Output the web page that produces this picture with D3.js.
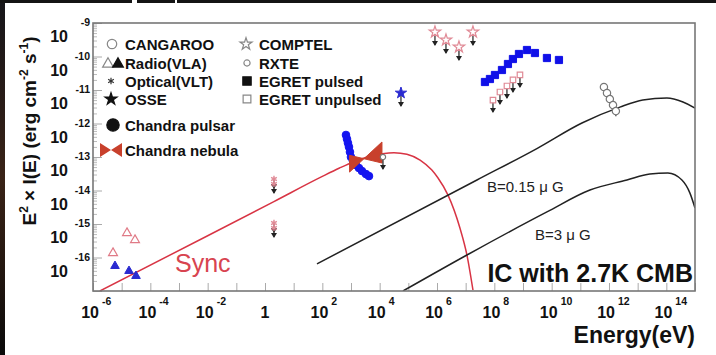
<!DOCTYPE html>
<html>
<head>
<meta charset="utf-8">
<script src="https://cdn.jsdelivr.net/npm/d3@7"></script>
<style>
  body { margin: 0; background: #fff; }
  svg { display: block; font-family: "Liberation Sans", Arial, Helvetica, sans-serif; }
</style>
</head>
<body>
<svg id="chart" width="716" height="355"></svg>
<script>
// all values are log10(E / eV) and log10(E^2 I(E) / erg cm^-2 s^-1)
const syncLogE = [-5.76, -2.0, 0.31, 2.0, 2.6, 3.1, 3.6, 4.1, 4.5, 4.95, 5.41, 5.82, 6.03, 6.38, 6.80, 7.045, 7.254];
const syncLogF = [-17.0, -15.35, -14.33, -13.58, -13.33, -13.14, -12.99, -12.90, -12.87, -12.92, -13.09, -13.39, -13.62, -14.13, -15.12, -15.93, -16.97];

const icHighLogE = [1.813, 7.394, 9.5, 11.056, 12.38, 13.18, 14.02, 14.58, 15.0];
const icHighLogF = [-16.19, -13.687, -12.74, -11.985, -11.51, -11.30, -11.24, -11.36, -11.54];

const icLowLogE = [4.813, 7.045, 9.835, 11.335, 12.626, 13.427, 14.055, 14.543, 14.82, 15.0];
const icLowLogF = [-17.0, -15.925, -14.64, -13.985, -13.687, -13.507, -13.478, -13.687, -14.07, -14.52];

const radioOpenLogE = [-5.302, -4.814, -4.535];
const radioOpenLogF = [-15.866, -15.269, -15.478];
const radioFilledLogE = [-5.233, -4.744, -4.50];
const radioFilledLogF = [-16.254, -16.403, -16.552];

const opticalLogE = [0.313, 0.313, 0.313, 0.313];
const opticalLogF = [-13.657, -13.806, -14.97, -15.12];

const pulsarLogE = [2.825, 2.86, 2.894, 2.929, 2.964, 2.999, 3.069, 3.173, 3.278, 3.383, 3.522, 3.627];
const pulsarLogF = [-12.343, -12.463, -12.582, -12.70, -12.85, -13.0, -13.12, -13.24, -13.33, -13.42, -13.51, -13.57];

// Chandra nebula butterfly: [E1, E2] for the soft and hard power laws
const nebulaLogE = [2.95, 4.080];
const nebulaSoftLogF = [-12.95, -13.179];
const nebulaHardLogF = [-13.45, -12.552];

const rxteLogE = [4.115];
const rxteLogF = [-13.0];
const osseLogE = [4.743];
const osseLogF = [-11.09];

const comptelLogE = [5.929, 6.313, 6.766, 7.254];
const comptelLogF = [-9.269, -9.507, -9.716, -9.269];

const egretPulsedLogE = [7.673, 7.847, 8.022, 8.266, 8.475, 8.649, 8.859, 9.138, 9.417, 9.835, 10.254];
const egretPulsedLogF = [-10.761, -10.672, -10.552, -10.403, -10.224, -10.075, -9.925, -9.806, -9.896, -10.045, -10.104];

const egretUnpulsedLogE = [7.952, 8.196, 8.44, 8.65, 8.894];
const egretUnpulsedLogF = [-11.30, -11.06, -10.88, -10.70, -10.55];

const cangarooLogE = [11.823, 11.93, 12.03, 12.14, 12.24];
const cangarooLogF = [-10.91, -11.09, -11.27, -11.45, -11.63];
const cangarooErr = [0.12, 0.12, 0.12, 0.12, 0.15];

const xTickExps = [-6, -4, -2, 0, 2, 4, 6, 8, 10, 12, 14];
const yTickExps = [-9, -10, -11, -12, -13, -14, -15, -16];

const legendLeft = ["CANGAROO", "Radio(VLA)", "Optical(VLT)", "OSSE", "Chandra pulsar", "Chandra nebula"];
const legendRight = ["COMPTEL", "RXTE", "EGRET pulsed", "EGRET unpulsed"];

const W = 716, H = 355;
const svg = d3.select("#chart");

const x = d3.scaleLog().domain([1e-6, 1e15]).range([93, 695]);
const y = d3.scaleLog().domain([1e-17, 1e-9]).range([291, 23]);

const pts = (le, lf) => le.map((e, i) => [Math.pow(10, e), Math.pow(10, lf[i])]);

// edges of the original screenshot
const defs = svg.append("defs");
const grad = defs.append("linearGradient").attr("id", "edge")
  .attr("x1", 0).attr("x2", 0).attr("y1", 0).attr("y2", 1);
[["0", "#16161a"], ["0.3", "#2a1c17"], ["0.5", "#3a2317"], ["0.75", "#241710"], ["1", "#0a0a0a"]]
  .forEach(s => grad.append("stop").attr("offset", s[0]).attr("stop-color", s[1]));
svg.append("rect").attr("x", 0).attr("y", 0).attr("width", 5).attr("height", H).attr("fill", "url(#edge)");
svg.append("rect").attr("x", 0).attr("y", 0).attr("width", W).attr("height", 3).attr("fill", "#141414");
svg.append("rect").attr("x", 132).attr("y", 0).attr("width", 5).attr("height", 3).attr("fill", "#fff");
svg.append("rect").attr("x", 175).attr("y", 0).attr("width", 2).attr("height", 3).attr("fill", "#fff");

defs.append("clipPath").attr("id", "plotclip")
  .append("rect").attr("x", 93).attr("y", 23).attr("width", 602).attr("height", 268);

// ticks (inside the frame, ROOT style)
const decadesX = d3.range(-6, 16).map(n => Math.pow(10, n));
svg.append("g")
  .attr("transform", "translate(0,291)")
  .call(d3.axisBottom(x).tickValues(decadesX).tickSize(-8).tickFormat(""))
  .call(g => g.select(".domain").remove())
  .call(g => g.selectAll("line").attr("stroke", "#aaa"));

const decadesY = d3.range(-17, -8).map(n => Math.pow(10, n));
const minorY = [];
d3.range(-17, -9).forEach(n => { for (let k = 2; k < 10; k++) minorY.push(k * Math.pow(10, n)); });
svg.append("g")
  .attr("transform", "translate(93,0)")
  .call(d3.axisLeft(y).tickValues(decadesY).tickSize(-9).tickFormat(""))
  .call(g => g.select(".domain").remove())
  .call(g => g.selectAll("line").attr("stroke", "#aaa"));
svg.append("g")
  .attr("transform", "translate(93,0)")
  .call(d3.axisLeft(y).tickValues(minorY).tickSize(-4).tickFormat(""))
  .call(g => g.select(".domain").remove())
  .call(g => g.selectAll("line").attr("stroke", "#bbb"));

// tick labels
const xl = svg.append("g").attr("fill", "#111").attr("font-weight", "bold");
xTickExps.forEach(n => {
  const px = x(Math.pow(10, n));
  if (n === 0) {
    xl.append("text").attr("x", px).attr("y", 318).attr("text-anchor", "middle")
      .attr("font-size", 16).text("1");
    return;
  }
  xl.append("text").attr("x", px + 6).attr("y", 318).attr("text-anchor", "end")
    .attr("font-size", 16).text("10");
  xl.append("text").attr("x", px + 9).attr("y", 305).attr("text-anchor", "start")
    .attr("font-size", 10.5).text(n);
});

const yl = svg.append("g").attr("fill", "#111").attr("font-weight", "bold");
yTickExps.forEach(n => {
  const py = y(Math.pow(10, n));
  yl.append("text").attr("x", 68).attr("y", py + 19).attr("text-anchor", "end")
    .attr("font-size", 16).text("10");
  yl.append("text").attr("x", 90).attr("y", py + 3).attr("text-anchor", "end")
    .attr("font-size", 10.5).text(n);
});

// axis titles
const yt = svg.append("text")
  .attr("transform", "translate(36,131) rotate(-90)")
  .attr("text-anchor", "middle").attr("font-size", 19).attr("font-weight", "bold").attr("fill", "#111");
yt.append("tspan").text("E");
yt.append("tspan").attr("dy", -8).attr("font-size", 12).text("2");
yt.append("tspan").attr("dy", 8).text(" × I(E) (erg cm");
yt.append("tspan").attr("dy", -8).attr("font-size", 12).text("-2");
yt.append("tspan").attr("dy", 8).text(" s");
yt.append("tspan").attr("dy", -8).attr("font-size", 12).text("-1");
yt.append("tspan").attr("dy", 8).text(")");

svg.append("text").attr("x", 695).attr("y", 343).attr("text-anchor", "end")
  .attr("font-size", 23).attr("font-weight", "bold").attr("fill", "#111").text("Energy(eV)");

// plot content
const plot = svg.append("g").attr("clip-path", "url(#plotclip)");

const line = d3.line().x(d => x(d[0])).y(d => y(d[1])).curve(d3.curveMonotoneX);

plot.append("path").datum(pts(syncLogE, syncLogF)).attr("d", line)
  .attr("fill", "none").attr("stroke", "#d83444").attr("stroke-width", 1.5);
plot.append("path").datum(pts(icHighLogE, icHighLogF)).attr("d", line)
  .attr("fill", "none").attr("stroke", "#222").attr("stroke-width", 1.5);
plot.append("path").datum(pts(icLowLogE, icLowLogF)).attr("d", line)
  .attr("fill", "none").attr("stroke", "#222").attr("stroke-width", 1.5);

const sym = (type, size) => d3.symbol().type(type).size(size)();
const asterisk = d3.symbolAsterisk || d3.symbolCross;

function markers(data, type, size, fill, stroke, sw) {
  plot.append("g").selectAll("path").data(data).join("path")
    .attr("transform", d => `translate(${x(d[0])},${y(d[1])})`)
    .attr("d", sym(type, size))
    .attr("fill", fill).attr("stroke", stroke).attr("stroke-width", sw || 1);
}

function upperLimits(data, len) {
  const g = plot.append("g");
  data.forEach(d => {
    const px = x(d[0]), py = y(d[1]);
    g.append("line").attr("x1", px).attr("x2", px).attr("y1", py).attr("y2", py + len)
      .attr("stroke", "#222").attr("stroke-width", 1.2);
    g.append("path")
      .attr("d", `M${px - 3},${py + len - 4}L${px + 3},${py + len - 4}L${px},${py + len + 1}Z`)
      .attr("fill", "#222");
  });
}

// radio
markers(pts(radioOpenLogE, radioOpenLogF), d3.symbolTriangle, 34, "none", "#e07a86", 1.2);
markers(pts(radioFilledLogE, radioFilledLogF), d3.symbolTriangle, 32, "#2a2ad0", "#2a2ad0");

// optical upper limits
upperLimits(pts(opticalLogE, opticalLogF), 9);
markers(pts(opticalLogE, opticalLogF), asterisk, 30, "none", "#e08a96", 1.4);

// Chandra pulsar
markers(pts(pulsarLogE, pulsarLogF), d3.symbolCircle, 46, "#1414f0", "#1414f0");

// Chandra nebula butterfly: two straight edges crossing at the pivot give the bowtie
const pivotShape = [
  [nebulaLogE[0], nebulaSoftLogF[0]], [nebulaLogE[1], nebulaSoftLogF[1]],
  [nebulaLogE[1], nebulaHardLogF[1]], [nebulaLogE[0], nebulaHardLogF[0]]
];
plot.append("path")
  .attr("d", () => {
    const p = pts(pivotShape.map(d => d[0]), pivotShape.map(d => d[1])).map(d => [x(d[0]), y(d[1])]);
    return `M${p[0]}L${p[1]}L${p[2]}L${p[3]}Z`;
  })
  .attr("fill", "#c8402c").attr("stroke", "#c8402c").attr("stroke-width", 1);

// RXTE and OSSE upper limits
upperLimits(pts(rxteLogE, rxteLogF), 12);
markers(pts(rxteLogE, rxteLogF), d3.symbolCircle, 22, "#fff", "#777", 1.2);
upperLimits(pts(osseLogE, osseLogF), 13);
markers(pts(osseLogE, osseLogF), d3.symbolStar, 40, "#2a2ad0", "#2a2ad0");

// COMPTEL
upperLimits(pts(comptelLogE, comptelLogF), 13);
markers(pts(comptelLogE, comptelLogF), d3.symbolStar, 40, "#fff", "#e08a96", 1.2);

// EGRET
upperLimits(pts(egretUnpulsedLogE, egretUnpulsedLogF), 12);
markers(pts(egretUnpulsedLogE, egretUnpulsedLogF), d3.symbolSquare, 30, "#fff", "#e08a96", 1.2);
markers(pts(egretPulsedLogE, egretPulsedLogF), d3.symbolSquare, 52, "#1010e8", "#1010e8");

// CANGAROO
const cang = pts(cangarooLogE, cangarooLogF);
plot.append("g").selectAll("line").data(cang).join("line")
  .attr("x1", d => x(d[0])).attr("x2", d => x(d[0]))
  .attr("y1", (d, i) => y(d[1] * Math.pow(10, cangarooErr[i])))
  .attr("y2", (d, i) => y(d[1] / Math.pow(10, cangarooErr[i])))
  .attr("stroke", "#333").attr("stroke-width", 1.2);
markers(cang, d3.symbolCircle, 42, "#fff", "#777", 1.2);

// frame
svg.append("rect").attr("x", 93).attr("y", 23).attr("width", 602).attr("height", 268)
  .attr("fill", "none").attr("stroke", "#777").attr("stroke-width", 1.6);

// curve labels
svg.append("text").attr("x", 175).attr("y", 272).attr("font-size", 25).attr("fill", "#d84450").text("Sync");
svg.append("text").attr("x", 487).attr("y", 192).attr("font-size", 15).attr("fill", "#222").text("B=0.15 μ G");
svg.append("text").attr("x", 535).attr("y", 240).attr("font-size", 15).attr("fill", "#222").text("B=3 μ G");
svg.append("text").attr("x", 693).attr("y", 282).attr("text-anchor", "end")
  .attr("font-size", 25).attr("font-weight", "bold").attr("fill", "#111").text("IC with 2.7K CMB");

// legend
const lg = svg.append("g").attr("font-size", 15).attr("font-weight", "bold").attr("fill", "#111");
const rowY = [44, 63, 81, 99, 125, 150];
legendLeft.forEach((t, i) => lg.append("text").attr("x", 125).attr("y", rowY[i] + 5.5).text(t));
legendRight.forEach((t, i) => lg.append("text").attr("x", 259).attr("y", rowY[i] + 5.5).text(t));

const lsym = (px, py, type, size, fill, stroke) => lg.append("path")
  .attr("transform", `translate(${px},${py})`).attr("d", sym(type, size))
  .attr("fill", fill).attr("stroke", stroke).attr("stroke-width", 1.2);
lsym(112, rowY[0], d3.symbolCircle, 70, "#fff", "#888");
lsym(108, rowY[1] + 1, d3.symbolTriangle, 50, "#fff", "#888");
lsym(118, rowY[1] + 1, d3.symbolTriangle, 50, "#111", "#111");
lsym(111, rowY[2], asterisk, 30, "none", "#333");
lsym(111, rowY[3], d3.symbolStar, 45, "#111", "#111");
lsym(113, rowY[4], d3.symbolCircle, 120, "#111", "#111");
lg.append("path").attr("d", `M100,${rowY[5] - 7}L111,${rowY[5]}L100,${rowY[5] + 7}Z M122,${rowY[5] - 7}L111,${rowY[5]}L122,${rowY[5] + 7}Z`)
  .attr("fill", "#c8402c");
lsym(246, rowY[0], d3.symbolStar, 45, "#fff", "#888");
lsym(247, rowY[1], d3.symbolCircle, 30, "#fff", "#888");
lsym(247, rowY[2], d3.symbolSquare, 70, "#111", "#111");
lsym(247, rowY[3], d3.symbolSquare, 60, "#fff", "#888");
</script>
</body>
</html>
